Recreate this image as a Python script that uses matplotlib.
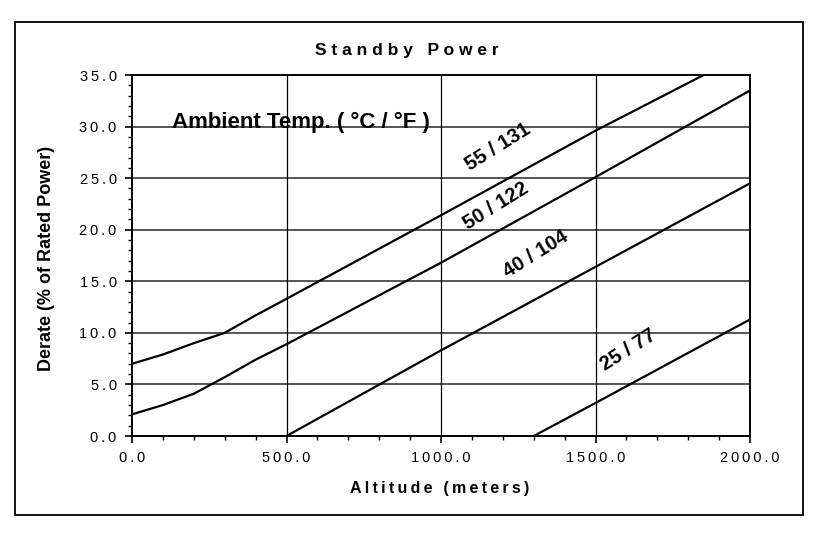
import matplotlib
matplotlib.use("Agg")
import matplotlib.pyplot as plt
from matplotlib.patches import Rectangle
from matplotlib.ticker import MultipleLocator

plt.rcParams['font.family'] = ['Liberation Sans', 'DejaVu Sans']

# derate curves (altitude m, derate %)
alt_55 = [0, 100, 200, 300, 400, 500, 1000, 1500, 1850]
der_55 = [7.0, 7.9, 9.0, 10.0, 11.7, 13.3, 21.4, 29.6, 35.0]
alt_50 = [0, 100, 200, 300, 400, 500, 1000, 1500, 2000]
der_50 = [2.1, 3.0, 4.1, 5.7, 7.4, 8.9, 16.8, 25.1, 33.5]
alt_40 = [500, 1000, 1500, 2000]
der_40 = [0.0, 8.3, 16.4, 24.5]
alt_25 = [1300, 1500, 2000]
der_25 = [0.0, 3.2, 11.3]

labels = ["55 / 131", "50 / 122", "40 / 104", "25 / 77"]
label_pos = [(1185, 28.0), (1178, 22.3), (1308, 17.6), (1605, 8.3)]

xticks = [0, 500, 1000, 1500, 2000]
yticks = [0, 5, 10, 15, 20, 25, 30, 35]


def spaced(s, sep="\u2009"):
    return sep.join(s)


fig = plt.figure(figsize=(8.31, 5.34), dpi=100)
ax = fig.add_axes([132/831, 1-436/534, 618/831, 361/534])

for x, y in [(alt_55, der_55), (alt_50, der_50), (alt_40, der_40), (alt_25, der_25)]:
    ax.plot(x, y, color='black', lw=1.6, solid_capstyle='butt', zorder=3)

for lab, (lx, ly) in zip(labels, label_pos):
    ax.text(lx, ly, lab, rotation=32, rotation_mode='anchor', ha='center', va='center',
            fontsize=14.5, fontweight='bold', zorder=4)

ax.text(130, 29.9, "Ambient Temp. ( °C / °F )", fontsize=16, fontweight='bold',
        ha='left', va='baseline', zorder=4)

ax.set_xlim(0, 2000)
ax.set_ylim(0, 35)
ax.set_xticks(xticks)
ax.set_yticks(yticks)
ax.set_xticklabels([spaced(f"{v:.1f}") for v in xticks])
ax.set_yticklabels([spaced(f"{v:.1f}") for v in yticks])
ax.xaxis.set_minor_locator(MultipleLocator(100))
ax.yaxis.set_minor_locator(MultipleLocator(1))
ax.tick_params(which='major', direction='out', length=5, width=1.2, labelsize=10.5, pad=6)
ax.tick_params(which='minor', direction='out', length=3, width=1)

for v in yticks[1:-1]:
    ax.axhline(v, color='#555555', lw=1.4, zorder=1)
for v in xticks[1:-1]:
    ax.axvline(v, color='black', lw=0.9, zorder=1)

for s in ax.spines.values():
    s.set_linewidth(1.4)

fig.text(407/831, 1-50/534, spaced("Standby Power", " "), fontsize=12.5, fontweight='bold',
         ha='center', va='center')
fig.text(440/831, 1-488/534, spaced("Altitude (meters)"), fontsize=11.5, fontweight='bold',
         ha='center', va='center')
fig.text(47/831, 1-258/534, "Derate (% of Rated Power)", fontsize=13, fontweight='bold',
         ha='center', va='center', rotation=90)

fig.patches.append(Rectangle((15/831, 1-515/534), 788/831, 493/534, transform=fig.transFigure,
                             fill=False, edgecolor='black', lw=1.3))

fig.savefig("out.png", dpi=100)
